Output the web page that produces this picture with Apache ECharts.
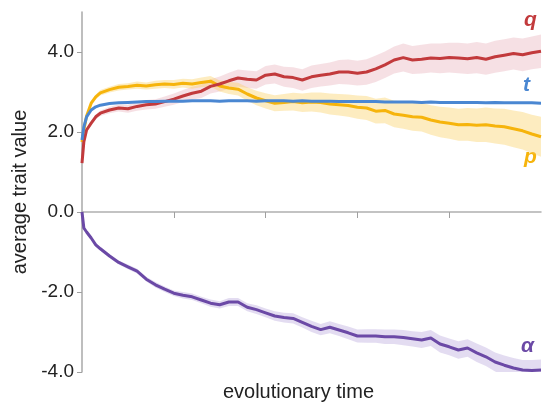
<!DOCTYPE html>
<html>
<head>
<meta charset="utf-8">
<script src="https://cdn.jsdelivr.net/npm/echarts@6/dist/echarts.min.js"></script>
<style>
  html, body { margin: 0; padding: 0; background: #fff; }
  #main { width: 544px; height: 409px; }
</style>
</head>
<body>
<div id="main"></div>
<script>
// evolutionary time (x)
var times = [0, 0.02, 0.05, 0.1, 0.15,
  0.2, 0.3, 0.4, 0.5, 0.6, 0.7, 0.8, 0.9, 1.0, 1.1,
  1.2, 1.3, 1.4, 1.5, 1.6, 1.7, 1.8, 1.9, 2.0, 2.1,
  2.2, 2.3, 2.4, 2.5, 2.6, 2.7, 2.8, 2.9, 3.0, 3.1,
  3.2, 3.3, 3.4, 3.5, 3.6, 3.7, 3.8, 3.9, 4.0, 4.1,
  4.2, 4.3, 4.4, 4.5, 4.6, 4.7, 4.8, 4.9, 5.0];

// q : mean and half width of band
var qMean = [1.22, 1.75, 2.05, 2.22, 2.38,
  2.47, 2.55, 2.6, 2.58, 2.64, 2.68, 2.7, 2.76, 2.82, 2.9,
  2.97, 3.02, 3.14, 3.2, 3.28, 3.35, 3.32, 3.3, 3.42, 3.45,
  3.38, 3.36, 3.3, 3.38, 3.42, 3.45, 3.5, 3.5, 3.47, 3.5,
  3.58, 3.68, 3.8, 3.86, 3.8, 3.82, 3.85, 3.84, 3.86, 3.85,
  3.83, 3.86, 3.82, 3.88, 3.92, 3.96, 3.93, 3.98, 4.02];
var qBand = [0.03, 0.04, 0.05, 0.06, 0.06,
  0.07, 0.08, 0.09, 0.1, 0.11, 0.12, 0.12, 0.13, 0.14, 0.15,
  0.16, 0.17, 0.18, 0.19, 0.2, 0.21, 0.22, 0.22, 0.23, 0.24,
  0.25, 0.26, 0.27, 0.28, 0.28, 0.29, 0.3, 0.31, 0.31, 0.32,
  0.33, 0.33, 0.34, 0.35, 0.35, 0.36, 0.36, 0.37, 0.37, 0.38,
  0.38, 0.39, 0.39, 0.4, 0.4, 0.4, 0.41, 0.41, 0.42];

// p
var pMean = [1.75, 2.05, 2.4, 2.72, 2.88,
  2.98, 3.06, 3.12, 3.14, 3.17, 3.15, 3.18, 3.2, 3.19, 3.22,
  3.2, 3.24, 3.27, 3.15, 3.1, 3.07, 2.95, 2.85, 2.78, 2.72,
  2.74, 2.76, 2.73, 2.75, 2.74, 2.7, 2.68, 2.66, 2.62, 2.6,
  2.52, 2.54, 2.45, 2.42, 2.38, 2.37, 2.3, 2.25, 2.22, 2.18,
  2.19, 2.17, 2.18, 2.15, 2.13, 2.08, 2.03, 1.95, 1.88];
var pBand = [0.03, 0.04, 0.05, 0.06, 0.06,
  0.07, 0.07, 0.08, 0.08, 0.09, 0.09, 0.1, 0.1, 0.11, 0.11,
  0.12, 0.12, 0.13, 0.14, 0.15, 0.16, 0.17, 0.18, 0.19, 0.2,
  0.21, 0.22, 0.23, 0.24, 0.25, 0.26, 0.27, 0.28, 0.29, 0.3,
  0.31, 0.32, 0.33, 0.34, 0.35, 0.36, 0.37, 0.38, 0.39, 0.4,
  0.41, 0.42, 0.43, 0.44, 0.45, 0.46, 0.47, 0.48, 0.5];

// t
var tMean = [1.8, 2.12, 2.38, 2.55, 2.63,
  2.67, 2.71, 2.73, 2.74, 2.75, 2.76, 2.76, 2.77, 2.77, 2.77,
  2.78, 2.78, 2.78, 2.77, 2.78, 2.78, 2.78, 2.77, 2.78, 2.78,
  2.78, 2.77, 2.78, 2.77, 2.77, 2.77, 2.76, 2.76, 2.76, 2.76,
  2.76, 2.75, 2.75, 2.75, 2.75, 2.74, 2.75, 2.74, 2.74, 2.74,
  2.74, 2.74, 2.73, 2.74, 2.73, 2.73, 2.73, 2.73, 2.72];

// alpha
var aMean = [0, -0.4, -0.5, -0.65, -0.82,
  -0.92, -1.1, -1.26, -1.37, -1.48, -1.68, -1.82, -1.93, -2.03, -2.08,
  -2.12, -2.2, -2.28, -2.32, -2.25, -2.25, -2.38, -2.44, -2.52, -2.6,
  -2.64, -2.66, -2.76, -2.86, -2.94, -2.88, -2.95, -3.02, -3.1, -3.1,
  -3.1, -3.12, -3.12, -3.14, -3.17, -3.2, -3.15, -3.3, -3.37, -3.45,
  -3.4, -3.52, -3.62, -3.75, -3.83, -3.9, -3.95, -3.96, -3.95];
var aBand = [0.02, 0.03, 0.03, 0.04, 0.04,
  0.05, 0.05, 0.05, 0.06, 0.06, 0.06, 0.07, 0.07, 0.07, 0.08,
  0.08, 0.08, 0.09, 0.09, 0.1, 0.1, 0.1, 0.11, 0.11, 0.12,
  0.12, 0.13, 0.13, 0.14, 0.14, 0.15, 0.15, 0.16, 0.16, 0.17,
  0.17, 0.18, 0.18, 0.19, 0.19, 0.2, 0.2, 0.21, 0.21, 0.22,
  0.22, 0.23, 0.23, 0.24, 0.24, 0.25, 0.25, 0.26, 0.26];

var yTicks = [-4, -2, 0, 2, 4];
var xTicks = [1, 2, 3, 4];

var cRed = '#c23a3c', cYellow = '#f6b40c', cBlue = '#4a87d2', cPurple = '#6b49a6';

function pairs(vals) {
  return times.map(function (t, i) { return [t, vals[i]]; });
}

// shaded band drawn as one polygon: upper edge forward, lower edge back
function band(mean, half, color) {
  return {
    type: 'custom', silent: true, z: 1, clip: true,
    data: times.map(function (t, i) { return [t, mean[i]]; }),
    renderItem: function (params, api) {
      if (params.dataIndex !== 0) return null;
      var pts = [];
      for (var i = 0; i < times.length; i++) pts.push(api.coord([times[i], mean[i] + half[i]]));
      for (var j = times.length - 1; j >= 0; j--) pts.push(api.coord([times[j], mean[j] - half[j]]));
      return { type: 'polygon', shape: { points: pts }, style: { fill: color } };
    }
  };
}

function line(mean, color, z) {
  return { type: 'line', data: pairs(mean), symbol: 'none', z: z,
    lineStyle: { color: color, width: 3 } };
}

var chart = echarts.init(document.getElementById('main'));

var series = [
  band(qMean, qBand, 'rgba(226,160,170,0.32)'),
  band(pMean, pBand, 'rgba(250,206,90,0.38)'),
  band(aMean, aBand, 'rgba(175,155,215,0.35)'),
  line(pMean, cYellow, 3), line(qMean, cRed, 4), line(tMean, cBlue, 5), line(aMean, cPurple, 4)
];

var lbl = { fontFamily: 'Liberation Sans, Arial, sans-serif', fontSize: 21, fontWeight: 'bold', fontStyle: 'italic' };

chart.setOption({
  animation: false,
  grid: { left: 82, right: 3, top: 12, bottom: 37 },
  xAxis: [{
    type: 'value', min: 0, max: 5,
    axisLine: { onZero: true, lineStyle: { color: '#b0b0b0', width: 1.5 } },
    axisTick: { customValues: xTicks, length: 6, lineStyle: { color: '#a0a0a0' } },
    axisLabel: { show: false },
    splitLine: { show: false }
  }, {
    type: 'value', min: 0, max: 5, position: 'bottom',
    axisLine: { show: false, onZero: false }, axisTick: { show: false },
    axisLabel: { show: false }, splitLine: { show: false },
    name: 'evolutionary time', nameLocation: 'middle', nameGap: 10,
    nameTextStyle: { fontFamily: 'Liberation Sans, Arial, sans-serif', fontSize: 20, color: '#222', padding: [0, 26, 0, 0] }
  }],
  yAxis: {
    type: 'value', min: -4, max: 5,
    axisLine: { show: true, lineStyle: { color: '#a8a8a8', width: 1.5 } },
    axisTick: { show: true, customValues: yTicks, length: 5, lineStyle: { color: '#a0a0a0' } },
    axisLabel: { customValues: yTicks, margin: 8, color: '#222', fontSize: 19,
      fontFamily: 'Liberation Sans, Arial, sans-serif',
      formatter: function (v) { return v.toFixed(1); } },
    splitLine: { show: false },
    name: 'average trait value', nameLocation: 'middle', nameGap: 52,
    nameTextStyle: { fontFamily: 'Liberation Sans, Arial, sans-serif', fontSize: 20, color: '#222' }
  },
  graphic: [
    { type: 'text', left: 524, top: 10, style: Object.assign({ text: 'q', fill: cRed }, lbl) },
    { type: 'text', left: 523, top: 75, style: Object.assign({ text: 't', fill: cBlue }, lbl) },
    { type: 'text', left: 524, top: 147, style: Object.assign({ text: 'p', fill: cYellow }, lbl) },
    { type: 'text', left: 521, top: 336, style: Object.assign({ text: 'α', fill: cPurple }, lbl) }
  ],
  series: series
});
</script>
</body>
</html>
